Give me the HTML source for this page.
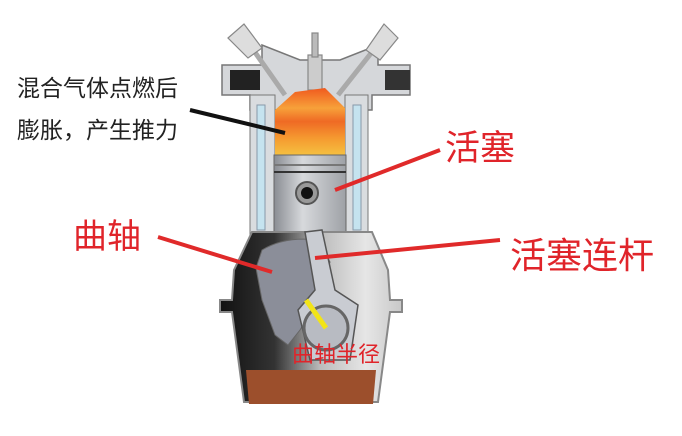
<!DOCTYPE html>
<html><head><meta charset="utf-8"><style>
html,body{margin:0;padding:0;background:#fff;}
svg{display:block}
text{font-family:"Liberation Sans","Noto Sans CJK SC",sans-serif;}
</style></head><body>
<svg width="682" height="436" viewBox="0 0 682 436" xmlns="http://www.w3.org/2000/svg">
<defs>
<linearGradient id="flame" x1="0" y1="0" x2="0" y2="1">
<stop offset="0" stop-color="#f05a1e"/><stop offset="0.3" stop-color="#f7a13a"/><stop offset="0.5" stop-color="#ef6a24"/><stop offset="0.75" stop-color="#f59a30"/><stop offset="1" stop-color="#f5c040"/>
</linearGradient>
<linearGradient id="pist" x1="0" y1="0" x2="1" y2="0">
<stop offset="0" stop-color="#8a8d93"/><stop offset="0.4" stop-color="#d7d9dc"/><stop offset="1" stop-color="#9ea1a6"/>
</linearGradient>
<linearGradient id="case" x1="0" y1="0" x2="1" y2="0">
<stop offset="0" stop-color="#111"/><stop offset="0.3" stop-color="#333"/><stop offset="0.55" stop-color="#bbb"/><stop offset="0.8" stop-color="#e6e6e6"/><stop offset="1" stop-color="#c8c8c8"/>
</linearGradient>
</defs>
<!-- head -->
<path d="M222,65 L262,65 L262,45 L300,60 L340,60 L378,45 L378,65 L410,65 L410,95 L372,95 L372,110 L250,110 L250,95 L222,95 Z" fill="#d5d7da" stroke="#777" stroke-width="1.5"/>
<rect x="230" y="70" width="30" height="20" fill="#222"/>
<rect x="385" y="70" width="25" height="20" fill="#333"/>
<!-- valves -->
<g stroke="#888" fill="#ddd" stroke-width="1.2">
<line x1="252" y1="48" x2="285" y2="95" stroke-width="5" stroke="#aaa"/>
<line x1="372" y1="52" x2="338" y2="95" stroke-width="5" stroke="#aaa"/>
<path d="M228,38 L244,24 L262,48 L248,58 Z"/>
<path d="M384,24 L398,38 L380,60 L366,50 Z"/>
<rect x="308" y="55" width="14" height="35" fill="#ccc"/>
<rect x="312" y="33" width="6" height="24" fill="#bbb"/>
</g>
<!-- cylinder walls -->
<rect x="250" y="95" width="25" height="145" fill="#d9dcdf" stroke="#777"/>
<rect x="257" y="105" width="8" height="125" fill="#c5e3ef" stroke="#89a"/>
<rect x="345" y="95" width="23" height="145" fill="#d9dcdf" stroke="#777"/>
<rect x="353" y="105" width="8" height="125" fill="#c5e3ef" stroke="#89a"/>
<!-- flame -->
<path d="M275,110 L295,92 L325,88 L345,108 L345,155 L275,155 Z" fill="url(#flame)"/>
<!-- piston -->
<rect x="274" y="155" width="72" height="78" fill="url(#pist)" stroke="#666"/>
<line x1="274" y1="165" x2="346" y2="165" stroke="#777" stroke-width="2"/>
<line x1="274" y1="172" x2="346" y2="172" stroke="#333" stroke-width="2"/>
<circle cx="307" cy="193" r="11" fill="#999" stroke="#555" stroke-width="2"/>
<circle cx="307" cy="193" r="6" fill="#111"/>
<!-- crankcase -->
<path d="M252,232 L372,232 L388,270 L390,300 L402,300 L402,312 L390,312 L378,402 L244,402 L232,312 L220,312 L220,300 L232,300 L234,270 Z" fill="url(#case)" stroke="#888" stroke-width="2"/>
<path d="M246,370 L376,370 L373,404 L249,404 Z" fill="#9c4f2c"/>
<!-- crank web -->
<path d="M262,250 Q285,236 318,240 L330,262 L318,300 L300,330 L288,345 L275,335 L262,300 L256,268 Z" fill="#8b8e99" stroke="#666"/>
<!-- rod -->
<path d="M305,232 L322,230 L335,290 L358,305 L350,360 L310,360 L298,310 L315,290 Z" fill="#c9ccd2" stroke="#555" stroke-width="1.5"/>
<circle cx="326" cy="328" r="22" fill="#b8bbc2" stroke="#666" stroke-width="3"/>
<line x1="306" y1="300" x2="326" y2="328" stroke="#f2e418" stroke-width="5"/>
<!-- leader lines -->
<line x1="190" y1="110" x2="285" y2="133" stroke="#111" stroke-width="4"/>
<line x1="440" y1="150" x2="335" y2="190" stroke="#e02a2a" stroke-width="4"/>
<line x1="158" y1="237" x2="272" y2="272" stroke="#e02a2a" stroke-width="4"/>
<line x1="500" y1="240" x2="315" y2="258" stroke="#e02a2a" stroke-width="4"/>
<!-- labels -->
<text x="17" y="96" font-size="23" fill="#222">混合气体点燃后</text>
<text x="17" y="138" font-size="23" fill="#222">膨胀，产生推力</text>
<text x="445" y="160" font-size="35" fill="#e0242a">活塞</text>
<text x="73" y="248" font-size="34" fill="#e0242a">曲轴</text>
<text x="510" y="268" font-size="36" fill="#e0242a">活塞连杆</text>
<text x="292" y="362" font-size="22" fill="#e0242a">曲轴半径</text>
</svg>
</body></html>
